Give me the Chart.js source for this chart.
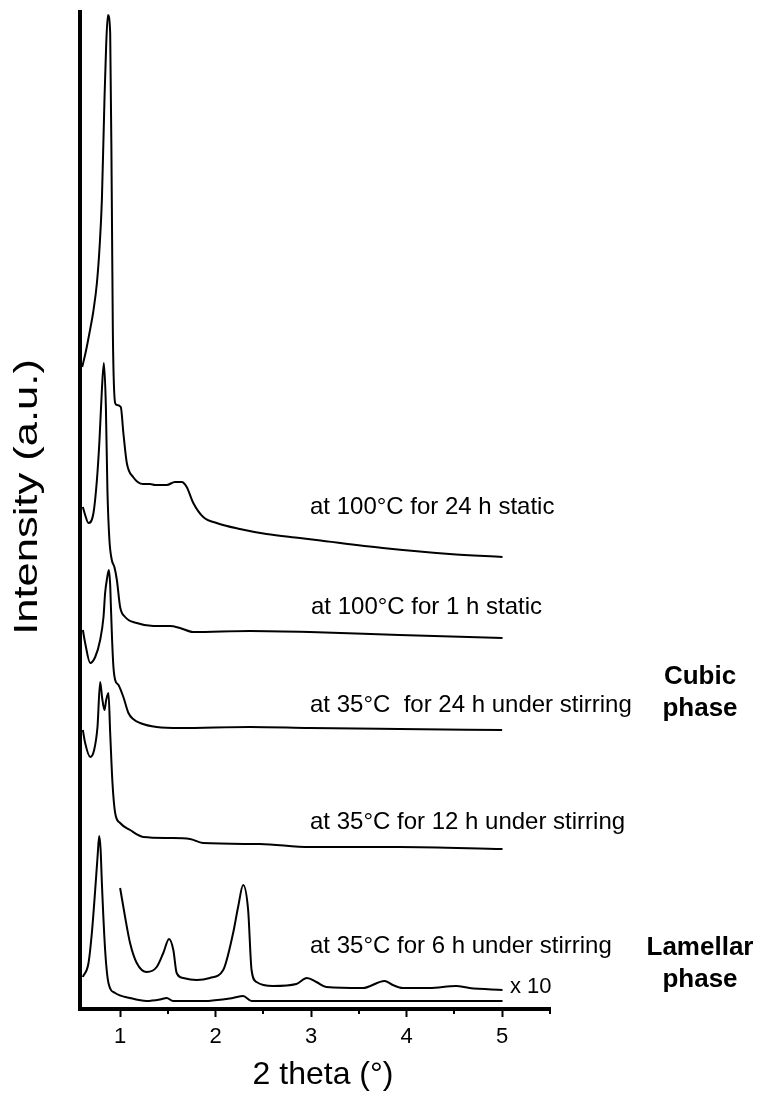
<!DOCTYPE html>
<html>
<head>
<meta charset="utf-8">
<script src="https://cdn.jsdelivr.net/npm/chart.js@4.4.1/dist/chart.umd.min.js"></script>
<style>
  html, body { margin: 0; padding: 0; background: #fff; }
  #wrap { width: 759px; height: 1093px; position: relative; }
</style>
</head>
<body>
<div id="wrap"><canvas id="c"></canvas></div>
<script>
// ---- data (2 theta in degrees, intensity in arbitrary units incl. stacking offset) ----
const seriesLabels = [
  "at 100°C for 24 h static",
  "at 100°C for 1 h static",
  "at 35°C  for 24 h under stirring",
  "at 35°C for 12 h under stirring",
  "at 35°C for 6 h under stirring",
  "x 10"
];

const theta100_24 = [0.603,0.640,0.679,0.720,0.757,0.785,0.809,0.836,0.854,0.872,0.896,0.913,0.924,0.948,0.966,1.007,1.034,1.070,1.136,1.240,1.313,1.366,1.488,1.574,1.644,1.697,1.766,1.870,2.010,2.253,2.532,2.880,3.054,3.750,4.447,5.003];
const int100_24   = [642,657,676,698,726,762,809,909,964,994,976,809,676,606,604,602,576,546,532,525,525,524,524,527,527,522,506,492,486,480,475,471,469,461,455,452];

const theta100_1 = [0.610,0.634,0.669,0.721,0.757,0.784,0.809,0.830,0.851,0.867,0.888,0.913,0.940,0.966,1.000,1.052,1.174,1.348,1.522,1.627,1.762,2.358,2.984,3.924,5.003];
const int100_1   = [502,494,486,496,529,569,619,646,602,519,469,449,442,429,402,392,386,383,383,381,377,378,377,374,371];

const theta35_24 = [0.610,0.634,0.687,0.739,0.791,0.826,0.843,0.864,0.882,0.896,0.903,0.916,0.930,0.948,0.983,1.034,1.087,1.136,1.209,1.383,1.627,2.358,2.984,3.924,4.999];
const int35_24   = [379,366,346,352,369,392,416,431,439,424,404,369,342,329,324,312,296,290,286,282,281,282,281,280,279];

const theta35_12 = [0.610,0.634,0.687,0.728,0.763,0.791,0.812,0.836,0.854,0.878,0.896,0.920,0.948,1.000,1.104,1.243,1.522,1.731,1.867,2.462,2.984,3.924,5.003];
const int35_12   = [279,266,252,259,282,327,311,299,309,316,276,226,196,186,179,172,171,170,166,165,162,162,160];

const theta35_6 = [0.610,0.669,0.704,0.739,0.765,0.781,0.796,0.809,0.843,0.878,0.948,1.104,1.279,1.418,1.488,1.554,1.867,2.180,2.288,2.376,2.567,5.003];
const int35_6   = [32,46,76,119,154,173,159,126,59,26,16,11,8,9.5,11,8,8,11,13,8,8,8];

const theta35_6x10 = [1.000,1.052,1.104,1.174,1.279,1.383,1.452,1.512,1.557,1.592,1.661,1.801,1.940,2.079,2.183,2.235,2.288,2.340,2.376,2.428,2.601,2.845,2.956,3.054,3.159,3.541,3.768,3.854,3.959,4.238,4.517,4.656,5.003];
const int35_6x10   = [121,92,66,46,37,42,56,70,59,36,31,29,31,39,76,102,124,99,39,27,23,25,31,27,22,21,28,24,21,21,23,21,19];

const xTicks = [1, 2, 3, 4, 5];
const xMinorTicks = [1.5, 2.5, 3.5, 4.5, 5.5];
const phaseLabels = [["Cubic", "phase"], ["Lamellar", "phase"]];
const axisTitles = { x: "2 theta (°)", y: "Intensity (a.u.)" };

// ---- build datasets ----
function pts(t, v) { return t.map((x, i) => ({ x: x, y: v[i] })); }
const curves = [
  [theta100_24, int100_24],
  [theta100_1, int100_1],
  [theta35_24, int35_24],
  [theta35_12, int35_12],
  [theta35_6, int35_6],
  [theta35_6x10, int35_6x10]
];
const datasets = curves.map((c, i) => ({
  label: seriesLabels[i],
  data: pts(c[0], c[1]),
  borderColor: '#000',
  borderWidth: 2,
  pointRadius: 0,
  fill: false,
  cubicInterpolationMode: 'monotone',
  clip: false
}));

const FONT = "'Liberation Sans', Arial, sans-serif";
Chart.defaults.font.family = FONT;
Chart.defaults.color = '#000';

const textPlugin = {
  id: 'texts',
  afterDraw(chart) {
    const ctx = chart.ctx;
    const xs = chart.scales.x;
    const base = xs.top;
    ctx.save();
    // minor ticks
    ctx.strokeStyle = '#000';
    ctx.lineWidth = 2;
    xMinorTicks.forEach(v => {
      const px = Math.round(xs.getPixelForValue(v));
      ctx.beginPath();
      ctx.moveTo(px, base);
      ctx.lineTo(px, base + 5);
      ctx.stroke();
    });
    // series labels
    ctx.fillStyle = '#000';
    ctx.textBaseline = 'middle';
    ctx.textAlign = 'left';
    ctx.font = "24px " + FONT;
    const labelPos = [[310, 507], [311, 607], [310, 705], [310, 822], [310, 946], [510, 987]];
    seriesLabels.forEach((s, i) => {
      if (i === 5) ctx.font = "22px " + FONT;
      ctx.fillText(s, labelPos[i][0], labelPos[i][1]);
    });
    // phase labels
    ctx.font = "bold 26px " + FONT;
    ctx.textAlign = 'center';
    const phasePos = [[700, 677, 709], [700, 948, 980]];
    phaseLabels.forEach((p, i) => {
      ctx.fillText(p[0], phasePos[i][0], phasePos[i][1]);
      ctx.fillText(p[1], phasePos[i][0], phasePos[i][2]);
    });
    // axis titles
    ctx.font = "32px " + FONT;
    ctx.fillText(axisTitles.x, 323, 1075);
    ctx.font = "34px " + FONT;
    ctx.translate(28, 497);
    ctx.rotate(-Math.PI / 2);
    ctx.scale(1.28, 1);
    ctx.fillText(axisTitles.y, 0, 0);
    ctx.restore();
  }
};

new Chart(document.getElementById('c'), {
  type: 'line',
  data: { datasets: datasets },
  plugins: [textPlugin],
  options: {
    responsive: true,
    maintainAspectRatio: false,
    animation: false,
    devicePixelRatio: 1,
    layout: { padding: { left: 70, right: 209, top: 12, bottom: 0 } },
    plugins: { legend: { display: false }, tooltip: { enabled: false } },
    elements: { line: { tension: 0 } },
    scales: {
      x: {
        type: 'linear',
        position: 'bottom',
        min: 0.58,
        max: 5.5,
        afterFit: s => { s.height = 84; },
        afterBuildTicks: s => { s.ticks = xTicks.map(v => ({ value: v })); },
        ticks: {
          font: { size: 22, family: FONT },
          color: '#000',
          padding: 7,
          autoSkip: false,
          maxRotation: 0,
          callback: v => String(v)
        },
        grid: { display: true, drawOnChartArea: false, drawTicks: true, tickLength: 8, tickWidth: 2, tickColor: '#000' },
        border: { display: true, width: 4, color: '#000' }
      },
      y: {
        type: 'linear',
        min: 0,
        max: 997,
        afterFit: s => { s.width = 10; },
        ticks: { display: false },
        grid: { display: true, drawOnChartArea: false, drawTicks: false },
        border: { display: true, width: 4, color: '#000' }
      }
    }
  }
});
</script>
</body>
</html>
